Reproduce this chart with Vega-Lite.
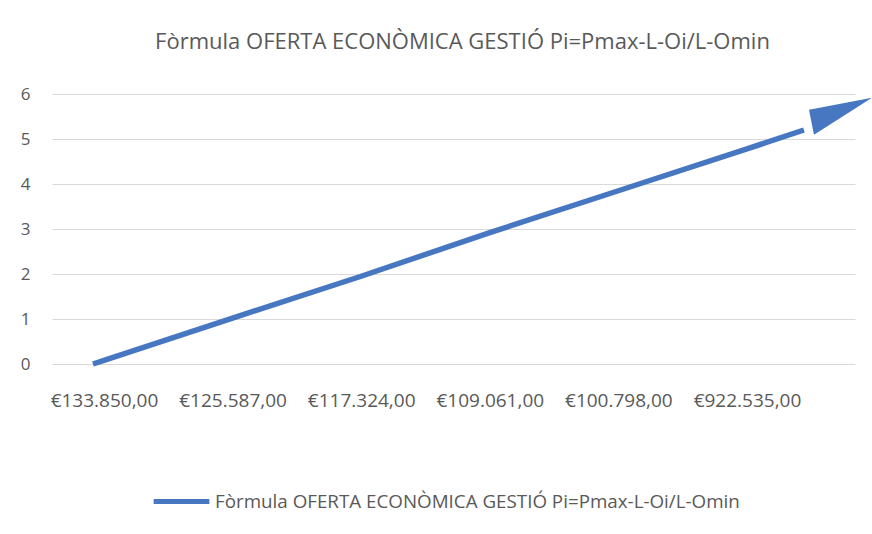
{
  "$schema": "https://vega.github.io/schema/vega-lite/v6.json",
  "width": 803,
  "height": 270,
  "autosize": "none",
  "padding": {"left": 52, "top": 94, "right": 17, "bottom": 170},
  "background": "white",
  "title": {
    "text": "Fòrmula OFERTA ECONÒMICA GESTIÓ Pi=Pmax-L-Oi/L-Omin",
    "font": "Open Sans",
    "fontSize": 22,
    "fontWeight": "normal",
    "color": "#595959",
    "anchor": "middle",
    "dx": 9,
    "offset": 31
  },
  "config": {
    "view": {"stroke": null},
    "font": "Open Sans"
  },
  "datasets": {
    "series": [
      {"amount": 134557, "value": 0.0, "series": "Fòrmula OFERTA ECONÒMICA GESTIÓ Pi=Pmax-L-Oi/L-Omin"},
      {"amount": 133850, "value": 0.08, "series": "Fòrmula OFERTA ECONÒMICA GESTIÓ Pi=Pmax-L-Oi/L-Omin"},
      {"amount": 125587, "value": 1.02, "series": "Fòrmula OFERTA ECONÒMICA GESTIÓ Pi=Pmax-L-Oi/L-Omin"},
      {"amount": 117324, "value": 1.95, "series": "Fòrmula OFERTA ECONÒMICA GESTIÓ Pi=Pmax-L-Oi/L-Omin"},
      {"amount": 109061, "value": 2.92, "series": "Fòrmula OFERTA ECONÒMICA GESTIÓ Pi=Pmax-L-Oi/L-Omin"},
      {"amount": 100798, "value": 3.85, "series": "Fòrmula OFERTA ECONÒMICA GESTIÓ Pi=Pmax-L-Oi/L-Omin"},
      {"amount": 92535, "value": 4.78, "series": "Fòrmula OFERTA ECONÒMICA GESTIÓ Pi=Pmax-L-Oi/L-Omin"},
      {"amount": 88874, "value": 5.2, "series": "Fòrmula OFERTA ECONÒMICA GESTIÓ Pi=Pmax-L-Oi/L-Omin"}
    ],
    "arrow": [
      {"amount": 87073, "value": 5.56}
    ]
  },
  "layer": [
    {
      "data": {"name": "series"},
      "mark": {"type": "line", "strokeWidth": 5.5, "strokeCap": "butt"},
      "encoding": {
        "x": {
          "field": "amount",
          "type": "quantitative",
          "scale": {"domain": [137190, 85594], "nice": false, "zero": false},
          "axis": {
            "title": null,
            "values": [133850, 125587, 117324, 109061, 100798, 92535],
            "labelExpr": "datum.value == 133850 ? '€133.850,00' : datum.value == 125587 ? '€125.587,00' : datum.value == 117324 ? '€117.324,00' : datum.value == 109061 ? '€109.061,00' : datum.value == 100798 ? '€100.798,00' : '€922.535,00'",
            "grid": false,
            "domain": false,
            "ticks": false,
            "labelPadding": 27,
            "labelFontSize": 19,
            "labelColor": "#595959",
            "labelFont": "Open Sans"
          }
        },
        "y": {
          "field": "value",
          "type": "quantitative",
          "scale": {"domain": [0, 6], "nice": false},
          "axis": {
            "title": null,
            "values": [0, 1, 2, 3, 4, 5, 6],
            "grid": true,
            "gridColor": "#d9d9d9",
            "gridWidth": 1,
            "domain": false,
            "ticks": false,
            "labelPadding": 22,
            "labelFontSize": 17,
            "labelColor": "#595959",
            "labelFont": "Open Sans"
          }
        },
        "color": {
          "field": "series",
          "type": "nominal",
          "scale": {"range": ["#4677c0"]},
          "legend": {
            "title": null,
            "orient": "none",
            "legendX": 99,
            "legendY": 377,
            "symbolType": "stroke",
            "symbolSize": 3100,
            "symbolStrokeWidth": 5,
            "labelFontSize": 18.8,
            "labelColor": "#595959",
            "labelFont": "Open Sans",
            "labelOffset": 3,
            "labelLimit": 800
          }
        }
      }
    },
    {
      "data": {"name": "arrow"},
      "mark": {
        "type": "point",
        "filled": true,
        "opacity": 1,
        "color": "#4677c0",
        "shape": "M-0.575,-0.1L1,-0.4L-0.45,0.525Z",
        "size": 6400
      },
      "encoding": {
        "x": {"field": "amount", "type": "quantitative"},
        "y": {"field": "value", "type": "quantitative"}
      }
    }
  ]
}
